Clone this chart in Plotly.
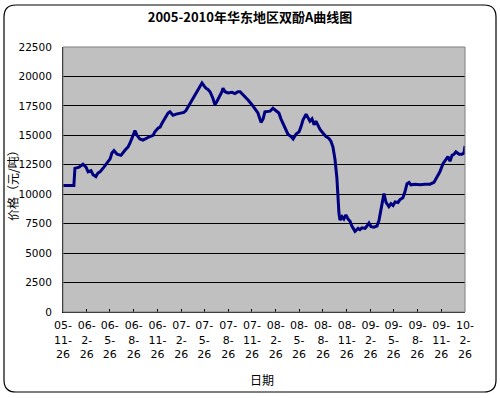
import plotly.graph_objects as go

title_text = "2005-2010年华东地区双酚A曲线图"
x_title = "日期"
y_title = "价格（元/吨）"

dates = [
    "2005-11-26", "2006-01-07", "2006-01-11", "2006-01-27", "2006-02-11", "2006-02-23",
    "2006-03-03", "2006-03-14", "2006-03-22", "2006-04-02", "2006-04-10", "2006-04-18",
    "2006-05-03", "2006-05-15", "2006-05-27", "2006-06-03", "2006-06-11", "2006-06-23",
    "2006-07-08", "2006-07-24", "2006-08-04", "2006-08-12", "2006-08-20", "2006-08-31",
    "2006-09-08", "2006-09-19", "2006-10-01", "2006-10-13", "2006-10-28", "2006-11-09",
    "2006-11-16", "2006-11-28", "2006-12-06", "2006-12-13", "2006-12-25", "2007-01-06",
    "2007-01-13", "2007-01-25", "2007-02-06", "2007-02-21", "2007-03-08", "2007-03-16",
    "2007-03-24", "2007-04-01", "2007-04-08", "2007-04-20", "2007-05-02", "2007-05-09",
    "2007-05-17", "2007-05-25", "2007-06-01", "2007-06-09", "2007-06-17", "2007-06-28",
    "2007-07-06", "2007-07-14", "2007-07-22", "2007-08-02", "2007-08-06", "2007-08-14",
    "2007-08-25", "2007-09-10", "2007-09-21", "2007-10-03", "2007-10-11", "2007-10-26",
    "2007-11-11", "2007-11-26", "2007-12-12", "2007-12-19", "2007-12-31", "2008-01-08",
    "2008-01-15", "2008-01-27", "2008-02-04", "2008-02-15", "2008-02-27", "2008-03-09",
    "2008-03-17", "2008-03-25", "2008-04-02", "2008-04-13", "2008-04-25", "2008-05-03",
    "2008-05-14", "2008-05-26", "2008-06-02", "2008-06-10", "2008-06-22", "2008-06-29",
    "2008-07-07", "2008-07-15", "2008-07-23", "2008-07-30", "2008-08-07", "2008-08-15",
    "2008-08-26", "2008-09-07", "2008-09-18", "2008-09-26", "2008-10-04", "2008-10-12",
    "2008-10-19", "2008-10-23", "2008-10-27", "2008-10-31", "2008-11-08", "2008-11-15",
    "2008-11-23", "2008-12-01", "2008-12-09", "2008-12-16", "2008-12-28", "2009-01-09",
    "2009-01-16", "2009-01-24", "2009-02-05", "2009-02-12", "2009-02-20", "2009-02-28",
    "2009-03-11", "2009-03-23", "2009-03-31", "2009-04-07", "2009-04-15", "2009-04-19",
    "2009-04-27", "2009-05-08", "2009-05-16", "2009-05-24", "2009-06-01", "2009-06-12",
    "2009-06-20", "2009-07-01", "2009-07-09", "2009-07-17", "2009-07-25", "2009-08-01",
    "2009-08-17", "2009-09-05", "2009-09-24", "2009-10-14", "2009-10-29", "2009-11-10",
    "2009-11-21", "2009-12-03", "2009-12-15", "2009-12-22", "2009-12-30", "2010-01-07",
    "2010-01-15", "2010-01-22", "2010-02-03", "2010-02-14", "2010-02-22", "2010-02-26",
]

prices = [
    10750, 10750, 12200, 12300, 12550, 12300,
    11900, 12000, 11650, 11500, 11800, 11900,
    12300, 12650, 13000, 13500, 13700, 13400,
    13300, 13750, 14000, 14350, 14850, 15400,
    15000, 14700, 14600, 14750, 14900, 15000,
    15300, 15600, 15700, 16000, 16400, 16900,
    17000, 16700, 16800, 16900, 16950, 17100,
    17400, 17700, 18000, 18400, 18850, 19100,
    19450, 19200, 19000, 18900, 18700, 18150,
    17600, 17900, 18200, 18700, 19000, 18700,
    18600, 18650, 18550, 18700, 18700, 18400,
    18000, 17600, 17150, 16900, 16100, 16400,
    17000, 17000, 17050, 17300, 17100, 16900,
    16400, 16000, 15500, 15100, 14900, 14700,
    15100, 15300, 15700, 16300, 16800, 16500,
    16200, 16400, 15900, 16200, 15800, 15500,
    15200, 14900, 14750, 14500, 14000, 12900,
    11400, 9800, 8400, 7800, 8100, 7900,
    8250, 7900, 7700, 7300, 6850, 7100,
    7000, 7150, 7100, 7300, 7550, 7250,
    7200, 7300, 7800, 8650, 9500, 10050,
    9300, 8950, 9200, 9050, 9350, 9300,
    9550, 9700, 10200, 10900, 11000, 10800,
    10850, 10800, 10850, 10850, 11000, 11450,
    11900, 12600, 13000, 13200, 12800, 13300,
    13400, 13600, 13400, 13400, 13500, 14100,
]

tick_dates = [
    "2005-11-26", "2006-02-26", "2006-05-26", "2006-08-26", "2006-11-26",
    "2007-02-26", "2007-05-26", "2007-08-26", "2007-11-26", "2008-02-26",
    "2008-05-26", "2008-08-26", "2008-11-26", "2009-02-26", "2009-05-26",
    "2009-08-26", "2009-11-26", "2010-02-26",
]
tick_labels = [
    "05-<br>11-<br>26", "06-<br>2-<br>26", "06-<br>5-<br>26", "06-<br>8-<br>26",
    "06-<br>11-<br>26", "07-<br>2-<br>26", "07-<br>5-<br>26", "07-<br>8-<br>26",
    "07-<br>11-<br>26", "08-<br>2-<br>26", "08-<br>5-<br>26", "08-<br>8-<br>26",
    "08-<br>11-<br>26", "09-<br>2-<br>26", "09-<br>5-<br>26", "09-<br>8-<br>26",
    "09-<br>11-<br>26", "10-<br>2-<br>26",
]
y_ticks = [0, 2500, 5000, 7500, 10000, 12500, 15000, 17500, 20000, 22500]
y_tick_labels = [str(v) for v in y_ticks]

FONT = "Noto Sans CJK SC, DejaVu Sans, sans-serif"
TICKFONT = "DejaVu Sans, sans-serif"

fig = go.Figure()
fig.add_trace(go.Scatter(
    x=dates, y=prices, mode="lines",
    line=dict(color="#000080", width=3),
    showlegend=False, hoverinfo="skip",
))

W, H = 500, 398
L, R, T, B = 63, 35, 47, 86
pw, ph = W - L - R, H - T - B

def px_to_paper_x(px):
    return round((px - L) / pw, 5)

def py_to_paper_y(py):
    return round((H - B - py) / ph, 5)

# rounded outer frame
x0, y0, x1, y1, r = 4, 5, 496, 392, 12
frame_shapes = [
    dict(type="line", x0=px_to_paper_x(x0 + r), x1=px_to_paper_x(x1 - r),
         y0=py_to_paper_y(y0), y1=py_to_paper_y(y0)),
    dict(type="line", x0=px_to_paper_x(x0 + r), x1=px_to_paper_x(x1 - r),
         y0=py_to_paper_y(y1), y1=py_to_paper_y(y1)),
    dict(type="line", x0=px_to_paper_x(x0), x1=px_to_paper_x(x0),
         y0=py_to_paper_y(y0 + r), y1=py_to_paper_y(y1 - r)),
    dict(type="line", x0=px_to_paper_x(x1), x1=px_to_paper_x(x1),
         y0=py_to_paper_y(y0 + r), y1=py_to_paper_y(y1 - r)),
]
corners = [
    (x0, y0 + r, x0, y0, x0 + r, y0),
    (x1 - r, y0, x1, y0, x1, y0 + r),
    (x1, y1 - r, x1, y1, x1 - r, y1),
    (x0 + r, y1, x0, y1, x0, y1 - r),
]
for ax, ay, cx, cy, bx, by in corners:
    p = (f"M{px_to_paper_x(ax)},{py_to_paper_y(ay)} "
         f"Q{px_to_paper_x(cx)},{py_to_paper_y(cy)} {px_to_paper_x(bx)},{py_to_paper_y(by)}")
    frame_shapes.append(dict(type="path", path=p))
for s in frame_shapes:
    s.update(xref="paper", yref="paper", line=dict(color="#000000", width=1.2), layer="above")

fig.update_layout(
    width=W, height=H,
    margin=dict(l=L, r=R, t=T, b=B),
    paper_bgcolor="white",
    plot_bgcolor="#C0C0C0",
    font=dict(family=FONT, size=11, color="#000000"),
    title=dict(
        text="<b>" + title_text + "</b>",
        x=0.5, xref="container", xanchor="center",
        y=1 - 17 / H, yref="container", yanchor="middle",
        font=dict(family=FONT, size=13, color="#000000"),
    ),
    xaxis=dict(
        type="date",
        range=[tick_dates[0], tick_dates[-1]],
        tickmode="array", tickvals=tick_dates, ticktext=tick_labels,
        ticks="inside", ticklen=3, tickcolor="#000000", tickwidth=1,
        showgrid=False, zeroline=False,
        showline=True, linecolor="#000000", linewidth=1,
        tickangle=0,
        tickfont=dict(family=TICKFONT, size=11, color="#000000"),
        ticklabelstandoff=3,
    ),
    yaxis=dict(
        range=[0, 22500],
        tickmode="array", tickvals=y_ticks, ticktext=y_tick_labels,
        showgrid=True, gridcolor="#000000", gridwidth=1,
        zeroline=False,
        showline=True, linecolor="#000000", linewidth=1,
        ticks="", ticklabelstandoff=8,
        tickfont=dict(family=TICKFONT, size=10.5, color="#000000"),
    ),
    shapes=frame_shapes + [
        dict(type="rect", xref="paper", yref="paper", x0=0, y0=0, x1=1, y1=1,
             line=dict(color="#808080", width=1), layer="above"),
    ],
    annotations=[
        dict(text=y_title, xref="paper", yref="paper",
             x=px_to_paper_x(13), y=py_to_paper_y(182),
             xanchor="center", yanchor="middle", textangle=-90,
             showarrow=False, font=dict(family=FONT, size=12, color="#000000")),
        dict(text=x_title, xref="paper", yref="paper",
             x=px_to_paper_x(262), y=py_to_paper_y(380),
             xanchor="center", yanchor="middle",
             showarrow=False, font=dict(family=FONT, size=12, color="#000000")),
    ],
)

fig.write_html(
    "out.html",
    config={"displayModeBar": False},
    post_script="document.body.style.margin='0';document.body.style.overflow='hidden';",
)
